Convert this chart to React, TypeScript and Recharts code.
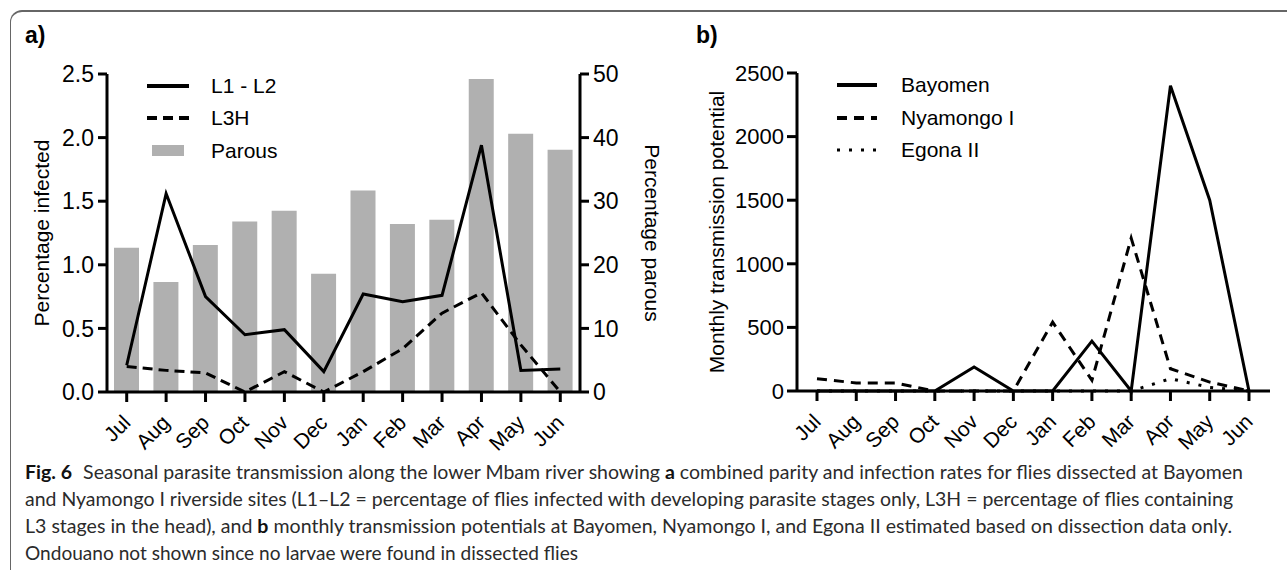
import React from 'react';
import { ComposedChart, LineChart, Bar, Line, XAxis, YAxis } from 'recharts';

const months = ['Jul', 'Aug', 'Sep', 'Oct', 'Nov', 'Dec', 'Jan', 'Feb', 'Mar', 'Apr', 'May', 'Jun'];

// panel a
const parous = [22.7, 17.3, 23.1, 26.8, 28.5, 18.6, 31.7, 26.4, 27.1, 49.2, 40.6, 38.1];
const l1l2 = [0.21, 1.56, 0.75, 0.45, 0.49, 0.16, 0.77, 0.71, 0.76, 1.94, 0.17, 0.18];
const l3h = [0.2, 0.17, 0.15, 0, 0.16, 0, 0.16, 0.34, 0.62, 0.78, 0.37, 0];
const infectedTicks = [0, 0.5, 1, 1.5, 2, 2.5];
const parousTicks = [0, 10, 20, 30, 40, 50];

// panel b
const bayomen = [0, 0, 0, 0, 188, 0, 0, 392, 0, 2400, 1500, 0];
const nyamongo = [97, 63, 63, 0, 0, 0, 541, 84, 1202, 175, 70, 0];
const egona = [0, 0, 0, 0, 0, 0, 0, 0, 0, 97, 28, 0];
const mtpTicks = [0, 500, 1000, 1500, 2000, 2500];

const dataA = months.map((m, i) => ({ month: m, parous: parous[i], l1l2: l1l2[i], l3h: l3h[i] }));
const dataB = months.map((m, i) => ({ month: m, bayomen: bayomen[i], nyamongo: nyamongo[i], egona: egona[i] }));

const FONT = '"Liberation Sans", Arial, sans-serif';
const CAPTION_FONT = 'Lato, "Open Sans", sans-serif';

const axisLine = { stroke: '#000', strokeWidth: 3 };
const tickLine = { stroke: '#000', strokeWidth: 3 };

const MonthTick = (props: any) => {
  const { x, y, payload } = props;
  const ax = x + 5;
  const ay = y + 20;
  return (
    <text
      x={ax}
      y={ay}
      textAnchor="end"
      fontSize={21}
      fontFamily={FONT}
      fill="#000"
      transform={`rotate(-45, ${ax}, ${ay})`}
    >
      {payload.value}
    </text>
  );
};

const Legends = () => (
  <svg width={1287} height={571} style={{ position: 'absolute', left: 0, top: 0, pointerEvents: 'none' }}>
    <g fontFamily={FONT} fontSize={21} fill="#000">
      <line x1={147} x2={189} y1={86} y2={86} stroke="#000" strokeWidth={4} />
      <text x={211} y={93}>L1 - L2</text>
      <line x1={147} x2={189} y1={118} y2={118} stroke="#000" strokeWidth={4} strokeDasharray="10 6" />
      <text x={211} y={125}>L3H</text>
      <rect x={152} y={145} width={32} height={11} fill="#b0b0b0" />
      <text x={211} y={158}>Parous</text>

      <line x1={837} x2={877} y1={85} y2={85} stroke="#000" strokeWidth={4} />
      <text x={901} y={92}>Bayomen</text>
      <line x1={837} x2={877} y1={118} y2={118} stroke="#000" strokeWidth={4} strokeDasharray="10 7" />
      <text x={901} y={125}>Nyamongo I</text>
      <line x1={837} x2={877} y1={150} y2={150} stroke="#000" strokeWidth={3} strokeDasharray="3 9" />
      <text x={901} y={157}>Egona II</text>
    </g>
  </svg>
);

const Caption = () => (
  <svg width={1287} height={571} style={{ position: 'absolute', left: 0, top: 0, pointerEvents: 'none' }}>
    <g fontFamily={CAPTION_FONT} fontSize={19} fill="#2b2b2b">
      <text x={25} y={479} textLength={1218} lengthAdjust="spacingAndGlyphs">
        <tspan fontWeight="bold" fill="#111">Fig. 6</tspan>
        <tspan dx={6}> Seasonal parasite transmission along the lower Mbam river showing </tspan>
        <tspan fontWeight="bold" fill="#111">a</tspan>
        <tspan> combined parity and infection rates for flies dissected at Bayomen</tspan>
      </text>
      <text x={25} y={506} textLength={1208} lengthAdjust="spacingAndGlyphs">
        and Nyamongo I riverside sites (L1–L2 = percentage of flies infected with developing parasite stages only, L3H = percentage of flies containing
      </text>
      <text x={25} y={533} textLength={1207} lengthAdjust="spacingAndGlyphs">
        <tspan>L3 stages in the head), and </tspan>
        <tspan fontWeight="bold" fill="#111">b</tspan>
        <tspan> monthly transmission potentials at Bayomen, Nyamongo I, and Egona II estimated based on dissection data only.</tspan>
      </text>
      <text x={25} y={560} textLength={553} lengthAdjust="spacingAndGlyphs">
        Ondouano not shown since no larvae were found in dissected flies
      </text>
    </g>
  </svg>
);

export default function App() {
  return (
    <div style={{ position: 'absolute', left: 0, top: 0, width: 1287, height: 571, background: '#fff', overflow: 'hidden' }}>
      <div
        style={{
          position: 'absolute',
          left: 10,
          top: 10,
          width: 1300,
          height: 558,
          borderTop: '2px solid #666',
          borderLeft: '1.5px solid #666',
          borderTopLeftRadius: 12,
        }}
      />
      <div style={{ position: 'absolute', left: 25, top: 22, fontFamily: FONT, fontWeight: 'bold', fontSize: 23 }}>a)</div>
      <div style={{ position: 'absolute', left: 696, top: 22, fontFamily: FONT, fontWeight: 'bold', fontSize: 23 }}>b)</div>

      <div style={{ position: 'absolute', left: 0, top: 0 }}>
        <ComposedChart width={700} height={460} data={dataA} margin={{ top: 74, right: 40, bottom: 8, left: 27 }}>
          <XAxis
            dataKey="month"
            axisLine={axisLine}
            tickLine={tickLine}
            tickSize={10}
            tickMargin={2}
            height={60}
            interval={0}
            tick={<MonthTick />}
          />
          <YAxis
            yAxisId="left"
            domain={[0, 2.5]}
            ticks={infectedTicks}
            tickFormatter={(v: number) => v.toFixed(1)}
            width={80}
            axisLine={axisLine}
            tickLine={tickLine}
            tickSize={9}
            tickMargin={4}
            tick={{ fill: '#000', fontSize: 23, fontFamily: FONT }}
            label={{
              value: 'Percentage infected',
              angle: -90,
              position: 'insideLeft',
              offset: 15,
              style: { textAnchor: 'middle', fontSize: 21, fill: '#000', fontFamily: FONT },
            }}
          />
          <YAxis
            yAxisId="right"
            orientation="right"
            domain={[0, 50]}
            ticks={parousTicks}
            width={80}
            axisLine={axisLine}
            tickLine={tickLine}
            tickSize={9}
            tickMargin={4}
            tick={{ fill: '#000', fontSize: 23, fontFamily: FONT }}
            label={{
              value: 'Percentage parous',
              angle: 90,
              position: 'insideRight',
              offset: 8,
              style: { textAnchor: 'middle', fontSize: 21, fill: '#000', fontFamily: FONT },
            }}
          />
          <Bar yAxisId="right" dataKey="parous" fill="#b0b0b0" barSize={25} isAnimationActive={false} />
          <Line yAxisId="left" type="linear" dataKey="l1l2" stroke="#000" strokeWidth={3} dot={false} isAnimationActive={false} />
          <Line
            yAxisId="left"
            type="linear"
            dataKey="l3h"
            stroke="#000"
            strokeWidth={3}
            strokeDasharray="10 6"
            dot={false}
            isAnimationActive={false}
          />
        </ComposedChart>
      </div>

      <div style={{ position: 'absolute', left: 690, top: 0 }}>
        <LineChart width={597} height={460} data={dataB} margin={{ top: 73, right: 17, bottom: 9, left: 27 }}>
          <XAxis
            dataKey="month"
            padding={{ left: 20, right: 21 }}
            axisLine={axisLine}
            tickLine={tickLine}
            tickSize={10}
            tickMargin={2}
            height={60}
            interval={0}
            tick={<MonthTick />}
          />
          <YAxis
            domain={[0, 2500]}
            ticks={mtpTicks}
            width={80}
            axisLine={axisLine}
            tickLine={tickLine}
            tickSize={10}
            tickMargin={3}
            tick={{ fill: '#000', fontSize: 22, fontFamily: FONT }}
            label={{
              value: 'Monthly transmission potential',
              angle: -90,
              position: 'insideLeft',
              offset: 0,
              style: { textAnchor: 'middle', fontSize: 21, fill: '#000', fontFamily: FONT },
            }}
          />
          <Line type="linear" dataKey="egona" stroke="#000" strokeWidth={3} strokeDasharray="3 9" dot={false} isAnimationActive={false} />
          <Line type="linear" dataKey="nyamongo" stroke="#000" strokeWidth={3} strokeDasharray="10 7" dot={false} isAnimationActive={false} />
          <Line type="linear" dataKey="bayomen" stroke="#000" strokeWidth={3} dot={false} isAnimationActive={false} />
        </LineChart>
      </div>

      <Legends />
      <Caption />
    </div>
  );
}
